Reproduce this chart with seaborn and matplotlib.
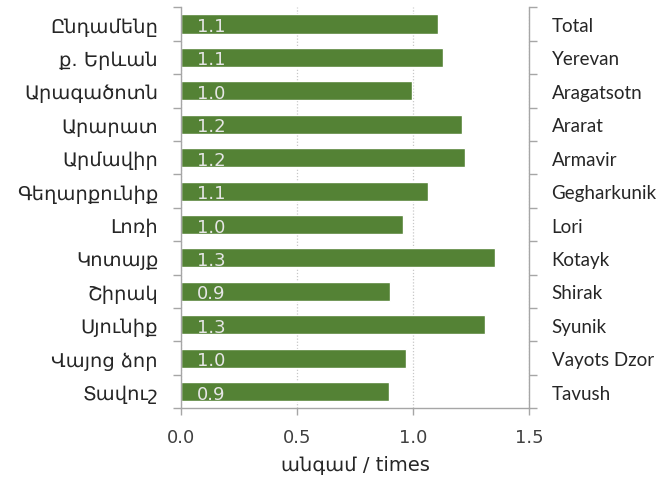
import matplotlib
matplotlib.use("Agg")
import matplotlib.pyplot as plt
import seaborn as sns
import pandas as pd
import numpy as np

# data
regions_hy = ["Ընդամենը", "ք. Երևան", "Արագածոտն", "Արարատ", "Արմավիր", "Գեղարքունիք",
              "Լոռի", "Կոտայք", "Շիրակ", "Սյունիք", "Վայոց ձոր", "Տավուշ"]
regions_en = ["Total", "Yerevan", "Aragatsotn", "Ararat", "Armavir", "Gegharkunik",
              "Lori", "Kotayk", "Shirak", "Syunik", "Vayots Dzor", "Tavush"]
values = [1.106, 1.128, 0.996, 1.21, 1.225, 1.063,
          0.955, 1.351, 0.898, 1.309, 0.967, 0.894]
value_labels = ["1.1", "1.1", "1.0", "1.2", "1.2", "1.1",
                "1.0", "1.3", "0.9", "1.3", "1.0", "0.9"]
x_ticks = [0.0, 0.5, 1.0, 1.5]

sns.set_style("white")
plt.rcParams['font.family'] = ['DejaVu Sans']

df = pd.DataFrame({"region": regions_hy, "value": values})

fig = plt.figure(figsize=(6.69, 4.85), dpi=100)
ax = fig.add_axes([0.2706, 0.1561, 0.5206, 0.8268])

sns.barplot(data=df, y="region", x="value", color="#548235", width=0.57,
            saturation=1, ax=ax, orient="h")

for i, lab in enumerate(value_labels):
    ax.text(0.069, i + 0.06, lab, color="#e6e6e6", fontsize=13,
            va="center", ha="left")

n = len(regions_hy)
ax.set_xlim(0, 1.5)
ax.set_ylim(n - 0.5, -0.5)
ax.set_xticks(x_ticks)
ax.set_xticklabels([f"{t:.1f}" for t in x_ticks])
ax.xaxis.grid(True, color="#c8c8c8", linestyle=(0, (1, 1.5)), linewidth=0.9)
ax.set_axisbelow(True)

axis_col = "#a6a6a6"
for s in ["left", "right", "bottom"]:
    ax.spines[s].set_color(axis_col)
    ax.spines[s].set_linewidth(1)
ax.spines["top"].set_visible(False)

ax.set_yticks(np.arange(n))
ax.set_yticks(np.arange(n + 1) - 0.5, minor=True)
ax.tick_params(axis="y", which="major", length=0, pad=16.5, labelsize=14, labelcolor="#262626")
ax.tick_params(axis="y", which="minor", length=6, width=1, color=axis_col, direction="out", left=True)
ax.tick_params(axis="x", which="major", length=5, width=1, color=axis_col, direction="out",
               bottom=True, pad=9, labelsize=13, labelcolor="#404040")
ax.set_ylabel("")
ax.set_xlabel("անգամ / times", fontsize=14, color="#262626", labelpad=7)

ax2 = ax.twinx()
ax2.set_ylim(ax.get_ylim())
ax2.set_yticks(np.arange(n))
ax2.set_yticklabels(regions_en, family=["Lato", "DejaVu Sans"], fontsize=13.5, color="#262626")
ax2.set_yticks(np.arange(n + 1) - 0.5, minor=True)
ax2.tick_params(axis="y", which="major", length=0, pad=16)
ax2.tick_params(axis="y", which="minor", length=6, width=1, color=axis_col, direction="out", right=True)
for s in ax2.spines.values():
    s.set_visible(False)

fig.savefig("out.png", dpi=100)
